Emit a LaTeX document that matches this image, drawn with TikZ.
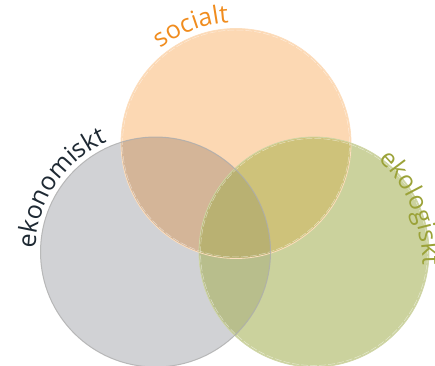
\documentclass[tikz,border=0pt]{standalone}
\usepackage{fontspec}
\setmainfont{Open Sans}
\usetikzlibrary{decorations.text}

% region colours
\definecolor{soc}{HTML}{FCD8B3}
\definecolor{eko}{HTML}{D1D2D5}
\definecolor{eco}{HTML}{CBD29D}
\definecolor{socEko}{HTML}{D4B598}
\definecolor{socEco}{HTML}{CEC27A}
\definecolor{ekoEco}{HTML}{B8BE8C}
\definecolor{allThree}{HTML}{B9B172}
% label colours
\definecolor{socText}{HTML}{F08C1E}
\definecolor{ekoText}{HTML}{1E2933}
\definecolor{ecoText}{HTML}{9BA238}

\tikzset{
  curvedlabel/.style={decorate, decoration={text along path, text align=center, text={#1}}},
  sheen/.style={white, opacity=0.5, line width=0.5pt, dash pattern=on 7pt off 2pt},
}

\begin{document}
\begin{tikzpicture}[x=1pt,y=1pt]
\useasboundingbox (0,0) rectangle (435,365);
\def\rad{115}
\coordinate (S) at (236,221.5);
\coordinate (K) at (155.5,113);
\coordinate (G) at (314,113);
% centre of the arc carrying the right-hand label
\coordinate (Garc) at (273.6,100.2);

% single circles
\fill[soc] (S) circle (\rad);
\fill[eko] (K) circle (\rad);
\fill[eco] (G) circle (\rad);

% pairwise overlaps
\begin{scope}
  \clip (S) circle (\rad);
  \fill[socEko] (K) circle (\rad);
  \fill[socEco] (G) circle (\rad);
\end{scope}
\begin{scope}
  \clip (K) circle (\rad);
  \fill[ekoEco] (G) circle (\rad);
\end{scope}
% triple overlap
\begin{scope}
  \clip (S) circle (\rad);
  \clip (K) circle (\rad);
  \fill[allThree] (G) circle (\rad);
\end{scope}

% outlines
\draw[sheen] (S) circle (\rad-1.5);
\draw[sheen] (G) circle (\rad-1.5);
\draw[soc!85!white, line width=0.8pt] (S) circle (\rad);
\draw[eco!90!white, line width=0.8pt] (G) circle (\rad);
\draw[black!32, opacity=0.8, line width=1pt] (K) circle (\rad);

% curved labels
\path[curvedlabel={|\fontsize{25}{25}\selectfont\color{socText}|socialt}]
  (S) ++(132:121) arc[start angle=132, end angle=90, radius=121];
\path[curvedlabel={|\fontsize{25}{25}\selectfont\color{ekoText}|ekonomiskt}]
  (K) ++(178:120) arc[start angle=178, end angle=114, radius=120];
\path[curvedlabel={|\fontsize{25}{25}\selectfont\color{ecoText}|ekologiskt}]
  (Garc) ++(52:149) arc[start angle=52, end angle=-7, radius=149];
\end{tikzpicture}
\end{document}
